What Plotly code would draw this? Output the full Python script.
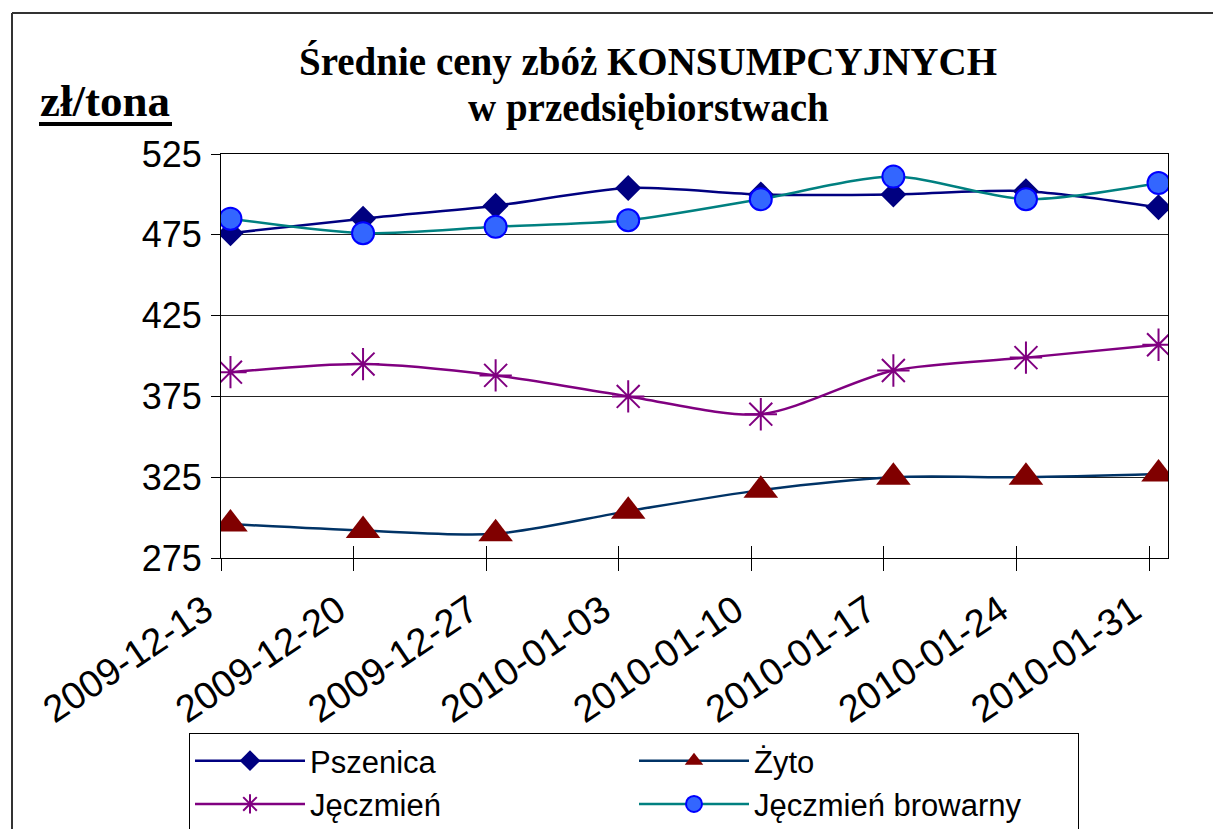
import pandas as pd
import plotly.graph_objects as go

# ---- data ----
dates = ["2009-12-13", "2009-12-20", "2009-12-27", "2010-01-03",
         "2010-01-10", "2010-01-17", "2010-01-24", "2010-01-31"]
tick_labels = dates
pszenica = [476, 485, 493, 504, 500, 500, 502, 492]
zyto = [296, 292, 290, 304, 317, 325, 325, 327]
jeczmien = [390, 395, 388, 375, 364, 391, 399, 407]
jeczmien_browarny = [485, 476, 480, 484, 497, 511, 497, 507]
y_ticks = [275, 325, 375, 425, 475, 525]

# Excel date axis: each point sits in the middle of its day
x_pts = pd.to_datetime(dates) + pd.Timedelta(hours=12)
x_range = ["2009-12-13", "2010-02-01"]

W, H = 1213, 829
L, R, T, B = 221, 45, 154, 271
pw, ph = W - L - R, H - T - B

def px_x(p):
    return (p - L) / pw

def px_y(p):
    return (H - B - p) / ph

SANS = "Liberation Sans, Arial, sans-serif"
SERIF = "Liberation Serif, Times New Roman, serif"

fig = go.Figure()
common = dict(mode="lines+markers", line_shape="spline", hoverinfo="skip")

fig.add_trace(go.Scatter(
    x=x_pts, y=pszenica, name="Pszenica", **common,
    line=dict(color="#000080", width=2.5, smoothing=0.8),
    marker=dict(symbol="diamond", size=20, color="#000080")))
fig.add_trace(go.Scatter(
    x=x_pts, y=zyto, name="Żyto", **common,
    line=dict(color="#003366", width=2.5, smoothing=0.8),
    marker=dict(symbol="triangle-up", size=30, color="#800000")))
fig.add_trace(go.Scatter(
    x=x_pts, y=jeczmien, name="Jęczmień", **common,
    line=dict(color="#800080", width=2.5, smoothing=0.8),
    marker=dict(symbol="asterisk-open", size=27, color="#800080",
                line=dict(color="#800080", width=2))))
fig.add_trace(go.Scatter(
    x=x_pts, y=jeczmien_browarny, name="Jęczmień browarny", **common,
    line=dict(color="#008080", width=2.5, smoothing=0.8),
    marker=dict(symbol="circle", size=22, color="#3366FF",
                line=dict(color="#0000FF", width=2))))
# helper trace for the inward half of the crossing tick marks
fig.add_trace(go.Scatter(x=[x_pts[0]], y=[None], xaxis="x2", yaxis="y",
                         showlegend=False, hoverinfo="skip", mode="markers"))

fig.update_layout(
    width=W, height=H,
    margin=dict(l=L, r=R, t=T, b=B, autoexpand=False),
    paper_bgcolor="white", plot_bgcolor="white",
    showlegend=True,
    xaxis=dict(
        type="date", range=x_range,
        tickvals=pd.to_datetime(dates), ticktext=tick_labels,
        tickangle=-34, tickfont=dict(family=SANS, size=38, color="black"),
        ticklabelstandoff=2, ticklabelshift=-16,
        ticks="outside", ticklen=12, tickcolor="black", tickwidth=1,
        showline=True, linecolor="black", linewidth=1, mirror=True,
        showgrid=False, zeroline=False),
    xaxis2=dict(
        type="date", range=x_range, overlaying="x", anchor="y", side="bottom",
        tickvals=pd.to_datetime(dates), showticklabels=False,
        ticks="inside", ticklen=12, tickcolor="black", tickwidth=1,
        showline=False, showgrid=False, zeroline=False),
    yaxis=dict(
        range=[275, 525], tickvals=y_ticks,
        tickfont=dict(family=SANS, size=36, color="black"),
        ticks="outside", ticklen=9, tickcolor="black", ticklabelstandoff=2,
        showline=True, linecolor="black", linewidth=1, mirror=True,
        showgrid=True, gridcolor="#222222", gridwidth=1, zeroline=False),
    legend=dict(
        orientation="h", xref="container", yref="container",
        x=189 / W, y=1 - 733 / H, xanchor="left", yanchor="top",
        entrywidth=319, entrywidthmode="pixels",
        font=dict(family=SANS, size=31, color="black"),
        bgcolor="white", bordercolor="black", borderwidth=1,
        traceorder="normal", itemwidth=110, tracegroupgap=0),
    annotations=[
        dict(text="<b>Średnie ceny zbóż KONSUMPCYJNYCH</b>", xref="paper", yref="paper",
             x=px_x(648), y=px_y(62), xanchor="center", yanchor="middle",
             showarrow=False, font=dict(family=SERIF, size=39, color="black")),
        dict(text="<b>w przedsiębiorstwach</b>", xref="paper", yref="paper",
             x=px_x(648), y=px_y(108), xanchor="center", yanchor="middle",
             showarrow=False, font=dict(family=SERIF, size=39, color="black")),
        dict(text="<b>zł/tona</b>", xref="paper", yref="paper",
             x=px_x(105), y=px_y(101), xanchor="center", yanchor="middle",
             showarrow=False, font=dict(family=SERIF, size=45, color="black")),
    ],
    shapes=[
        dict(type="line", xref="paper", yref="paper", x0=px_x(39), x1=px_x(172),
             y0=px_y(124), y1=px_y(124), line=dict(color="black", width=4)),
        dict(type="line", xref="paper", yref="paper", x0=px_x(12), x1=px_x(W),
             y0=px_y(13), y1=px_y(13), line=dict(color="#333333", width=2)),
        dict(type="line", xref="paper", yref="paper", x0=px_x(12), x1=px_x(12),
             y0=px_y(13), y1=px_y(H), line=dict(color="#333333", width=2)),
    ],
)

fig.write_html("out.html", config={"displayModeBar": False},
               post_script="document.body.style.margin='0px';")
